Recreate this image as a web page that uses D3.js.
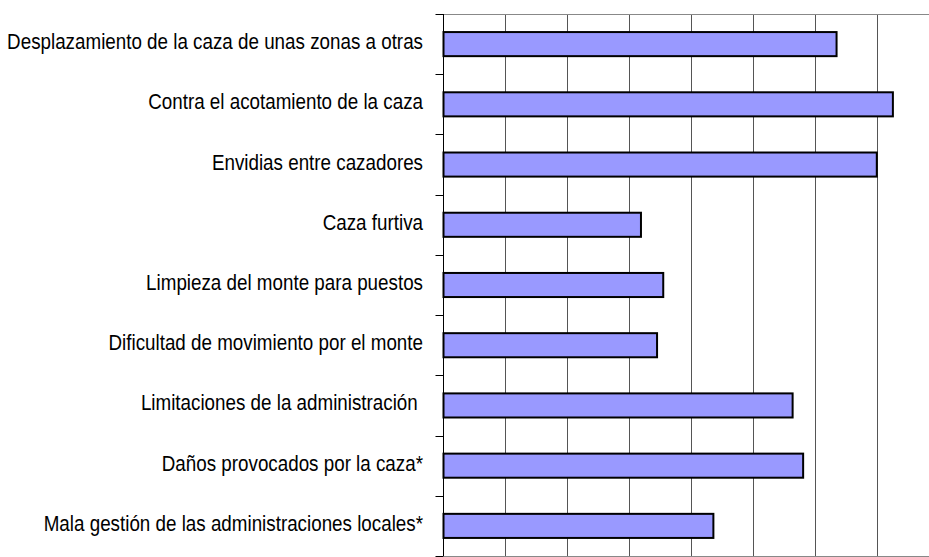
<!DOCTYPE html>
<html>
<head>
<meta charset="utf-8">
<script src="https://cdn.jsdelivr.net/npm/d3@7"></script>
<style>
  html, body { margin: 0; padding: 0; background: #fff; }
  svg { display: block; }
  .label { font-family: "Liberation Sans", Arial, sans-serif; font-size: 22px; fill: #000; }
</style>
</head>
<body>
<svg id="chart" width="929" height="557"></svg>
<script>
// Categories, top to bottom
const categories = [
  "Desplazamiento de la caza de unas zonas a otras",
  "Contra el acotamiento de la caza",
  "Envidias entre cazadores",
  "Caza furtiva",
  "Limpieza del monte para puestos",
  "Dificultad de movimiento por el monte",
  "Limitaciones de la administración ",
  "Daños provocados por la caza*",
  "Mala gestión de las administraciones locales*"
];
// Bar values (one unit per gridline)
const values = [6.35, 7.26, 7.0, 3.19, 3.55, 3.45, 5.64, 5.81, 4.36];
// Gridline positions on the value axis
const gridTicks = [0, 1, 2, 3, 4, 5, 6, 7, 8];

const svg = d3.select("#chart");
const plot = { left: 443.5, top: 14, bottom: 556, unit: 61.9 };

const x = d3.scaleLinear()
  .domain([0, 8])
  .range([plot.left, plot.left + 8 * plot.unit]);

const y = d3.scaleBand()
  .domain(categories)
  .range([plot.top, plot.bottom])
  .paddingInner(0.6)
  .paddingOuter(0.3);

// Category boundaries for the tick marks on the left axis
const boundary = d3.scaleLinear().domain([0, categories.length]).range([plot.top, plot.bottom]);

// Vertical gridlines
svg.append("g")
  .selectAll("line")
  .data(gridTicks.slice(1))
  .join("line")
  .attr("x1", d => Math.round(x(d)) + 0.5)
  .attr("x2", d => Math.round(x(d)) + 0.5)
  .attr("y1", plot.top)
  .attr("y2", plot.bottom)
  .attr("stroke", "#555")
  .attr("stroke-width", 1);

// Top border of the plot area
svg.append("line")
  .attr("x1", plot.left)
  .attr("x2", 929)
  .attr("y1", plot.top + 0.5)
  .attr("y2", plot.top + 0.5)
  .attr("stroke", "#888")
  .attr("stroke-width", 1);

// Bottom border
svg.append("line")
  .attr("x1", plot.left)
  .attr("x2", 929)
  .attr("y1", plot.bottom + 0.5)
  .attr("y2", plot.bottom + 0.5)
  .attr("stroke", "#888")
  .attr("stroke-width", 1);

// Bars
svg.append("g")
  .selectAll("rect")
  .data(values)
  .join("rect")
  .attr("x", x(0))
  .attr("y", (d, i) => y(categories[i]))
  .attr("width", d => x(d) - x(0))
  .attr("height", y.bandwidth())
  .attr("fill", "#9999ff")
  .attr("stroke", "#000")
  .attr("stroke-width", 2);

// Left axis line and tick marks
svg.append("line")
  .attr("x1", plot.left)
  .attr("x2", plot.left)
  .attr("y1", plot.top)
  .attr("y2", plot.bottom)
  .attr("stroke", "#000")
  .attr("stroke-width", 1);

svg.append("g")
  .selectAll("line")
  .data(d3.range(categories.length + 1))
  .join("line")
  .attr("x1", plot.left - 8)
  .attr("x2", plot.left)
  .attr("y1", d => Math.round(boundary(d)) + 0.5)
  .attr("y2", d => Math.round(boundary(d)) + 0.5)
  .attr("stroke", "#000")
  .attr("stroke-width", 1);

// Category labels, set in a horizontally condensed face
const condense = 0.855;
svg.append("g")
  .selectAll("text")
  .data(categories)
  .join("text")
  .attr("class", "label")
  .attr("transform", d => `translate(423,${y(d) + y.bandwidth() / 2 + 5}) scale(${condense},1)`)
  .attr("text-anchor", "end")
  .style("white-space", "pre")
  .text(d => d);
</script>
</body>
</html>
